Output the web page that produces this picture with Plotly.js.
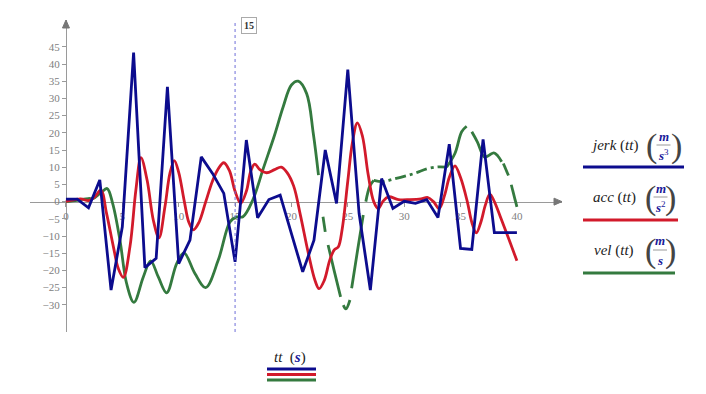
<!DOCTYPE html>
<html><head><meta charset="utf-8">
<script src="https://cdn.plot.ly/plotly-3.0.1.min.js"></script>
<style>html,body{margin:0;padding:0;background:#fff}#chart{width:706px;height:394px}</style>
</head><body><div id="chart"></div>
<script>
// ---- data ----
const tt = [0,1,2,3,4,5,6,7,8,9,10,11,12,13,14,15,16,17,18,19,20,21,22,23,24,25,26,27,28,29,30,31,32,33,34,35,36,37,38,39,40];
const jerk = [0.7,0.7,-1.8,6.3,-25.7,-7.3,43.3,-19.2,-16.5,33.4,-18,-11.2,13,8.2,2.4,-17.5,17.9,-4.7,0.6,1.9,-9.3,-20.4,-11.2,15,-0.5,38.4,-3.4,-25.7,6.7,-2,0.1,-0.5,0.6,-4.6,16.7,-13.6,-13.9,18.1,-9,-9,-9];

const accT = [0,0.7,1.3,2.0,2.5,3.1,3.6,4.2,4.64,5.09,5.68,6.2,6.65,7.2,7.75,8.25,8.78,9.22,9.61,10.0,10.5,10.9,11.3,11.8,12.4,13.0,13.5,14.0,14.5,15.0,15.5,16.0,16.4,16.75,17.2,17.8,18.5,19.1,19.6,20.2,20.8,21.5,22.1,22.45,22.9,23.4,23.8,24.15,24.5,25.0,25.4,25.85,26.3,26.8,27.3,27.7,28.1,28.6,29.5,30.5,31.5,32.1,32.6,33.1,33.6,34.0,34.5,35.0,35.6,36.0,36.4,36.8,37.2,37.6,38.0,38.6,39.3,40.0];
const accV = [0.1,0.5,0.8,0.3,1.2,3.3,-3.4,-13,-19.4,-22,-13,3.3,12.8,6.2,-5.4,-10.5,-1.5,8.2,11.9,8.5,0,-6,-8.2,-6,0,6,9.5,11.3,9,3,-0.5,3,9,10.9,9.3,8.4,9.3,10.0,8.5,4.5,-4,-15,-23,-25.3,-23,-17,-14,-13.2,-8,6,17,22.9,19,8,0,-2,0,1.4,0.6,0.6,0.8,1.2,0,-2,2,7,10.4,7,0,-6,-9.1,-6,-1,2.2,0,-5,-11,-17.2];

// null = gap in the plotted curve
const velT = [0,1,2,2.42,3.1,3.65,4.14,4.79,5.38,6.03,6.86,7.51,8.19,8.93,9.82,10.47,11.44,12.39,13.51,14.55,15.1,15.7,16.56,17.5,18.5,19.27,20.0,20.6,21.35,21.94,22.4,
  null,22.8,23.0,null,23.25,23.8,24.36,null,24.6,24.83,25.19,null,25.34,25.85,26.37,null,26.6,26.95,27.3,
  28.1,29.0,30.07,31.0,32.0,33.0,33.76,
  34.5,35.1,35.54,null,36.0,36.5,37.1,37.5,37.95,38.3,38.65,null,38.8,39.25,null,39.5,40];
const velV = [0,0.4,0.9,0.9,2.6,3.8,-0.5,-11.2,-23.8,-29.3,-21.9,-17.2,-21.9,-26.5,-18,-14.9,-20.9,-25,-17,-5.9,-4.5,-4.4,0.4,9.6,19.3,27.6,33.9,35,31.4,19.8,7.7,
  null,-4.4,-8.8,null,-12.6,-20.2,-27.7,null,-30.1,-31.2,-28.6,null,-25.2,-14.5,-3.9,null,0,4.5,6.2,
  5.8,6.5,7.4,8.3,9.5,10.1,10.0,
  14,20.3,21.9,null,20.3,17.3,13.0,13.4,14.2,13.3,11.6,null,11.1,7.6,null,4.9,-1.5];

const xTicks = [0,5,10,15,20,25,30,35,40];
const yTicks = [-30,-25,-20,-15,-10,-5,0,5,10,15,20,25,30,35,40,45];
const markerT = [15];
const dashDotFrom = 27.3, dashDotTo = 33.76;

// ---- layout geometry (pixels) ----
const L = 30, R = 562, T = 20, B = 332;
const xRange = [-3.19, 44.0], yRange = [-37.9, 52.8];
const xp = px => (px - L) / (R - L);
const yp = py => (B - py) / (B - T);

const BLUE = '#0c0c8e', RED = '#d21a2b', GREEN = '#347a3f', AXIS = '#9a9a9a';
const LW = 2.8;

// split the velocity curve into solid part and dash-dot part
const solidT = [], solidV = [], ddT = [], ddV = [];
for (let i = 0; i < velT.length; i++) {
  const t = velT[i];
  if (t !== null && t > dashDotFrom && t < dashDotTo) {
    if (solidT.length && solidT[solidT.length-1] !== null) { solidT.push(null); solidV.push(null); }
  } else { solidT.push(t); solidV.push(velV[i]); }
  if (t !== null && t >= dashDotFrom && t <= dashDotTo) { ddT.push(t); ddV.push(velV[i]); }
}

const traces = [
  {x: solidT, y: solidV, mode: 'lines', line: {color: GREEN, width: LW, shape: 'spline', smoothing: 1}, connectgaps: false},
  {x: ddT, y: ddV, mode: 'lines', line: {color: GREEN, width: LW, shape: 'spline', smoothing: 1, dash: '11px,4px,3px,4px'}},
  {x: accT, y: accV, mode: 'lines', line: {color: RED, width: LW, shape: 'spline', smoothing: 1}},
  {x: tt, y: jerk, mode: 'lines', line: {color: BLUE, width: LW}}
];

const tickFont = {family: 'Liberation Serif, DejaVu Serif, serif', size: 11, color: '#808080'};
const mathFont = {family: 'Liberation Serif, DejaVu Serif, serif', size: 15, color: '#222'};
const unitFont = {family: 'Liberation Serif, DejaVu Serif, serif', size: 13, color: '#1a1a9a'};
const parenFont = {family: 'Liberation Serif, serif', size: 34, color: '#444'};

const legendItems = [
  {name: 'jerk', unit: '<b><i>s</i></b><sup>3</sup>', y: 145, color: BLUE, lineY: 167, lineX1: 684, pl: 651, pr: 676},
  {name: 'acc',  unit: '<b><i>s</i></b><sup>2</sup>', y: 197, color: RED, lineY: 220, lineX1: 678, pl: 650, pr: 671},
  {name: 'vel',  unit: '<b><i>s</i></b>', y: 250, color: GREEN, lineY: 273, lineX1: 675, pl: 650, pr: 670}
];

const annotations = [];
const shapes = [];

// axis arrows (pixel-sized triangles anchored at the axis ends)
shapes.push({type: 'path', xref: 'x', yref: 'y', xsizemode: 'pixel', ysizemode: 'pixel', xanchor: xRange[1], yanchor: 0,
  path: 'M -8,3.5 L 0,0 L -8,-3.5 Z', fillcolor: '#777', line: {color: '#777', width: 1}});
shapes.push({type: 'path', xref: 'x', yref: 'y', xsizemode: 'pixel', ysizemode: 'pixel', xanchor: 0, yanchor: yRange[1],
  path: 'M -3.5,-8 L 0,0 L 3.5,-8 Z', fillcolor: '#777', line: {color: '#777', width: 1}});

// marker line
markerT.forEach(m => {
  shapes.push({type: 'line', xref: 'x', yref: 'paper', x0: m, x1: m, y0: 0, y1: 1, line: {color: '#6f6fd8', width: 1, dash: 'dot'}});
  annotations.push({x: m, y: yp(25), xref: 'x', yref: 'paper', xanchor: 'left', yanchor: 'middle', xshift: 6, text: '<b>' + m + '</b>', showarrow: false,
    font: {family: 'Liberation Serif, serif', size: 10, color: '#333'}, bordercolor: '#aaa', borderwidth: 1, borderpad: 2, bgcolor: '#fff'});
});

// legend (right side)
legendItems.forEach(it => {
  annotations.push({x: xp(614), y: yp(it.y), xref: 'paper', yref: 'paper', text: '<i>' + it.name + '</i> (<i>tt</i>)', showarrow: false, font: mathFont, xanchor: 'center', yanchor: 'middle'});
  annotations.push({x: xp(it.pl), y: yp(it.y + 1), xref: 'paper', yref: 'paper', text: '(', showarrow: false, font: parenFont, xanchor: 'center', yanchor: 'middle'});
  annotations.push({x: xp(it.pr), y: yp(it.y + 1), xref: 'paper', yref: 'paper', text: ')', showarrow: false, font: parenFont, xanchor: 'center', yanchor: 'middle'});
  const cx = (it.pl + it.pr) / 2;
  annotations.push({x: xp(cx), y: yp(it.y - 9), xref: 'paper', yref: 'paper', text: '<b><i>m</i></b>', showarrow: false, font: unitFont, xanchor: 'center', yanchor: 'middle'});
  annotations.push({x: xp(cx), y: yp(it.y + 10), xref: 'paper', yref: 'paper', text: it.unit, showarrow: false, font: unitFont, xanchor: 'center', yanchor: 'middle'});
  shapes.push({type: 'line', xref: 'paper', yref: 'paper', x0: xp(cx - 7), x1: xp(cx + 7), y0: yp(it.y), y1: yp(it.y), line: {color: '#999', width: 1}});
  shapes.push({type: 'line', xref: 'paper', yref: 'paper', x0: xp(583), x1: xp(it.lineX1), y0: yp(it.lineY), y1: yp(it.lineY), line: {color: it.color, width: 3}});
});

// x title
annotations.push({x: xp(290), y: yp(357), xref: 'paper', yref: 'paper', text: '<i>tt</i>  (<b><i><span style="color:#1a1a9a">s</span></i></b>)', showarrow: false, font: mathFont, xanchor: 'center', yanchor: 'middle'});
[[369, BLUE], [374.5, RED], [380, GREEN]].forEach(([py, c]) => {
  shapes.push({type: 'line', xref: 'paper', yref: 'paper', x0: xp(267), x1: xp(316), y0: yp(py), y1: yp(py), line: {color: c, width: 3}});
});

const layout = {
  width: 706, height: 394,
  margin: {l: L, r: 706 - R, t: T, b: 394 - B, pad: 0},
  paper_bgcolor: '#fff', plot_bgcolor: '#fff',
  showlegend: false, hovermode: false,
  xaxis: {range: xRange, anchor: 'free', position: (0 - yRange[0]) / (yRange[1] - yRange[0]),
    showline: true, linecolor: AXIS, linewidth: 1, ticks: 'outside', ticklen: 4, tickcolor: AXIS,
    tickmode: 'array', tickvals: xTicks, ticktext: xTicks.map(String), tickfont: tickFont,
    showgrid: false, zeroline: false, layer: 'below traces', fixedrange: true},
  yaxis: {range: yRange, anchor: 'free', position: (0 - xRange[0]) / (xRange[1] - xRange[0]),
    showline: true, linecolor: AXIS, linewidth: 1, ticks: 'outside', ticklen: 4, tickcolor: AXIS,
    tickmode: 'array', tickvals: yTicks, ticktext: yTicks.map(v => v < 0 ? '\u2212' + Math.abs(v) : String(v)), tickfont: tickFont,
    showgrid: false, zeroline: false, layer: 'below traces', fixedrange: true},
  annotations: annotations,
  shapes: shapes
};

Plotly.newPlot('chart', traces, layout, {staticPlot: true, displayModeBar: false});
</script>
</body></html>
